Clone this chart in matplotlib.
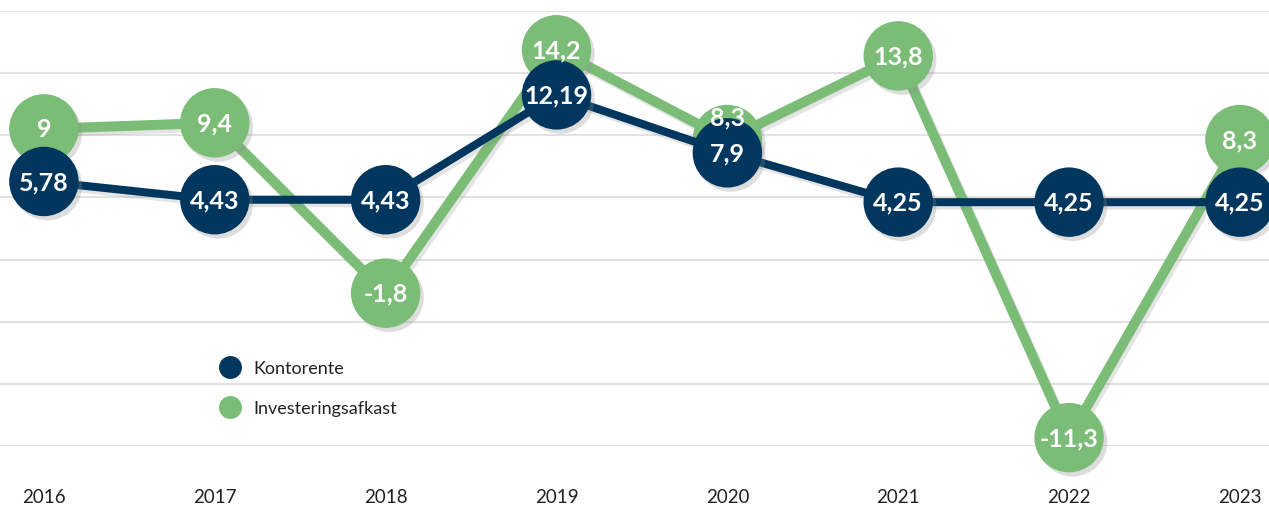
import numpy as np
import matplotlib
matplotlib.use("Agg")
import matplotlib.pyplot as plt
import matplotlib.patheffects as pe
from matplotlib.lines import Line2D

plt.rcParams['font.family'] = ['Lato', 'DejaVu Sans']

years = [2016, 2017, 2018, 2019, 2020, 2021, 2022, 2023]
kontorente = [5.78, 4.43, 4.43, 12.19, 7.9, 4.25, 4.25, 4.25]
invest = [9, 9.4, -1.8, 14.2, 8.3, 13.8, -11.3, 8.3]

blue = '#01375e'
green = '#7bbd77'
grid_col = '#e2e2e2'


def fmt(v):
    return ('%g' % v).replace('.', ',')


W, H = 1269, 506
fig = plt.figure(figsize=(W / 100, H / 100), dpi=100)
ax = fig.add_axes([0, 59 / H, 1, 435 / H])
ax2 = ax.twinx()

# green series (left axis), blue series (right axis)
g_lim = (-11.85, 16.75)
ax.set_ylim(g_lim)
ax.set_yticks(np.linspace(g_lim[0], g_lim[1], 8))
ax.grid(axis='y', color=grid_col, lw=1.5)
ax.set_axisbelow(True)
ax.set_xlim(2015.743, 2023.17)
ax2.set_ylim(-13.80, 18.40)

line_shadow = [pe.SimpleLineShadow(offset=(2, -2.5), shadow_color='#888888', alpha=0.22), pe.Normal()]
dot_shadow = [pe.SimplePatchShadow(offset=(2.5, -3), shadow_rgbFace='#888888', alpha=0.28), pe.Normal()]

ax.plot(years, invest, color=green, lw=7.2, solid_joinstyle='round', path_effects=line_shadow, zorder=2)
ax.plot(years, invest, ls='none', marker='o', ms=50, mfc=green, mec='none',
        path_effects=dot_shadow, zorder=3, clip_on=False)

ax2.plot(years, kontorente, color=blue, lw=5.8, solid_joinstyle='round', path_effects=line_shadow, zorder=2)
ax2.plot(years, kontorente, ls='none', marker='o', ms=50, mfc=blue, mec='none',
         path_effects=dot_shadow, zorder=3, clip_on=False)

# labels; a green label that sits almost behind the blue dot is lifted above it
fig.canvas.draw()
for x, g, k in zip(years, invest, kontorente):
    gy = ax.transData.transform((x, g))[1]
    ky = ax2.transData.transform((x, k))[1]
    dy = 16 if 0 < gy - ky < 35 else 0
    ax2.annotate(fmt(g), (x, g), xycoords=ax.transData, xytext=(0, dy), textcoords='offset points',
                 color='white', fontsize=18, fontweight='bold', ha='center', va='center',
                 zorder=4, annotation_clip=False)
    ax2.annotate(fmt(k), (x, k), color='white', fontsize=18, fontweight='bold',
                 ha='center', va='center', zorder=5, annotation_clip=False)

for a in (ax, ax2):
    for s in a.spines.values():
        s.set_visible(False)
    a.tick_params(axis='y', left=False, right=False, labelleft=False, labelright=False)

ax.set_xticks(years)
ax.set_xticklabels([str(y) for y in years], fontsize=13.5, color='#222222')
ax.tick_params(axis='x', length=0, pad=30)

handles = [Line2D([], [], ls='none', marker='o', ms=16.5, mfc=blue, mec='none'),
           Line2D([], [], ls='none', marker='o', ms=16.5, mfc=green, mec='none')]
ax2.legend(handles, ['Kontorente', 'Investeringsafkast'], loc='upper left',
           bbox_to_anchor=(221 / W, (H - 361) / H), bbox_transform=fig.transFigure,
           frameon=False, fontsize=13, handlelength=1.0, handletextpad=0.8,
           labelspacing=1.35, borderpad=0, borderaxespad=0, labelcolor='#222222')

fig.savefig('out.png', dpi=100)
